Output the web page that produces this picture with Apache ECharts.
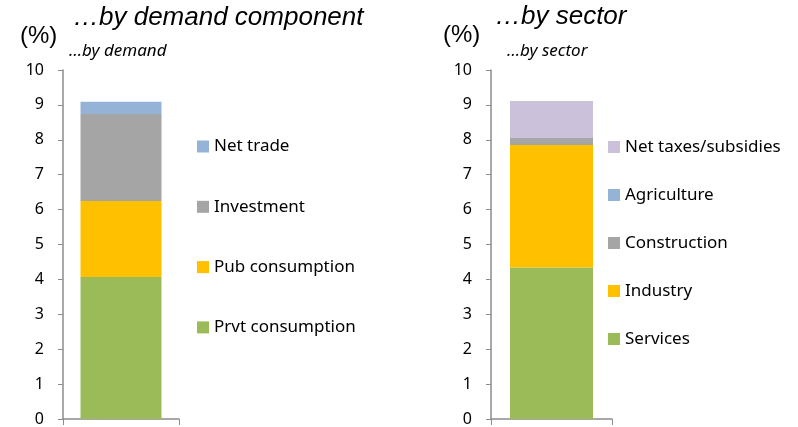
<!DOCTYPE html>
<html>
<head>
<meta charset="utf-8">
<script src="https://cdn.jsdelivr.net/npm/echarts@6/dist/echarts.min.js"></script>
<style>
html, body { margin: 0; padding: 0; background: #fff; }
#chart { width: 798px; height: 427px; }
</style>
</head>
<body>
<div id="chart"></div>
<script>
// left panel: contributions by demand component (stack from bottom)
var demandNames = ['Prvt consumption', 'Pub consumption', 'Investment', 'Net trade'];
var demandValues = [4.07, 2.18, 2.49, 0.35];
var demandColors = ['#9BBB59', '#FFC000', '#A5A5A5', '#95B3D7'];

// right panel: contributions by sector (stack from bottom)
var sectorNames = ['Services', 'Industry', 'Construction', 'Agriculture', 'Net taxes/subsidies'];
var sectorValues = [4.34, 3.51, 0.2, 0, 1.06];
var sectorColors = ['#9BBB59', '#FFC000', '#A5A5A5', '#95B3D7', '#CCC1DA'];

var yTicks = [0, 1, 2, 3, 4, 5, 6, 7, 8, 9, 10];

var chart = echarts.init(document.getElementById('chart'));

var font = 'Noto Sans';
var axisGrey = '#8C8C8C';

function yAxisFor(idx) {
    return {
        type: 'value',
        gridIndex: idx,
        min: yTicks[0],
        max: yTicks[yTicks.length - 1],
        interval: 1,
        axisLine: { show: true, lineStyle: { color: axisGrey, width: 1.5 } },
        axisTick: { show: true, length: 5, lineStyle: { color: axisGrey } },
        splitLine: { show: false },
        axisLabel: { color: '#000', fontSize: 16, fontFamily: font, margin: 19 }
    };
}

function xAxisFor(idx) {
    return {
        type: 'category',
        gridIndex: idx,
        data: [''],
        axisLine: { show: true, lineStyle: { color: axisGrey, width: 1.5 } },
        axisTick: { show: true, length: 6, inside: false, lineStyle: { color: axisGrey } },
        axisLabel: { show: false }
    };
}

var series = [];
demandNames.forEach(function (n, i) {
    series.push({
        name: n, type: 'bar', stack: 'demand', xAxisIndex: 0, yAxisIndex: 0,
        barWidth: 81, itemStyle: { color: demandColors[i] },
        data: [demandValues[i]]
    });
});
sectorNames.forEach(function (n, i) {
    series.push({
        name: n, type: 'bar', stack: 'sector', xAxisIndex: 1, yAxisIndex: 1,
        barWidth: 83, itemStyle: { color: sectorColors[i] },
        data: [sectorValues[i]]
    });
});

var legendText = { color: '#000', fontSize: 17, fontFamily: font, lineHeight: 16 };
var titleFont = { fontFamily: 'Liberation Sans', fontStyle: 'italic', fontWeight: 'normal', fontSize: 26, color: '#000' };
var unitFont = { fontFamily: 'Liberation Sans', fontWeight: 'normal', fontSize: 24, color: '#000' };
var subFont = { fontFamily: font, fontStyle: 'italic', fontWeight: 'normal', fontSize: 17, color: '#000' };

option = {
    animation: false,
    backgroundColor: '#fff',
    title: [
        { text: '\u2026by demand component', left: 73, top: 5, padding: 0, textStyle: titleFont },
        { text: '(%)', left: 20, top: 24, padding: 0, textStyle: unitFont },
        { text: '\u2026by demand', left: 69, top: 43, padding: 0, textStyle: subFont },
        { text: '\u2026by sector', left: 495, top: 4, padding: 0, textStyle: titleFont },
        { text: '(%)', left: 443, top: 23, padding: 0, textStyle: unitFont },
        { text: '\u2026by sector', left: 507, top: 43, padding: 0, textStyle: subFont }
    ],
    legend: [
        {
            data: demandNames.slice().reverse(),
            orient: 'vertical', left: 197, top: 138, padding: 0,
            itemWidth: 12, itemHeight: 12, itemGap: 43.3,
            icon: 'rect', textStyle: legendText
        },
        {
            data: sectorNames.slice().reverse(),
            orient: 'vertical', left: 608, top: 138.5, padding: 0,
            itemWidth: 12, itemHeight: 12, itemGap: 31,
            icon: 'rect', textStyle: legendText
        }
    ],
    grid: [
        { left: 63, top: 70, width: 116, bottom: 8 },
        { left: 491, top: 70, width: 121, bottom: 8 }
    ],
    xAxis: [xAxisFor(0), xAxisFor(1)],
    yAxis: [yAxisFor(0), yAxisFor(1)],
    series: series
};

chart.setOption(option);
</script>
</body>
</html>
